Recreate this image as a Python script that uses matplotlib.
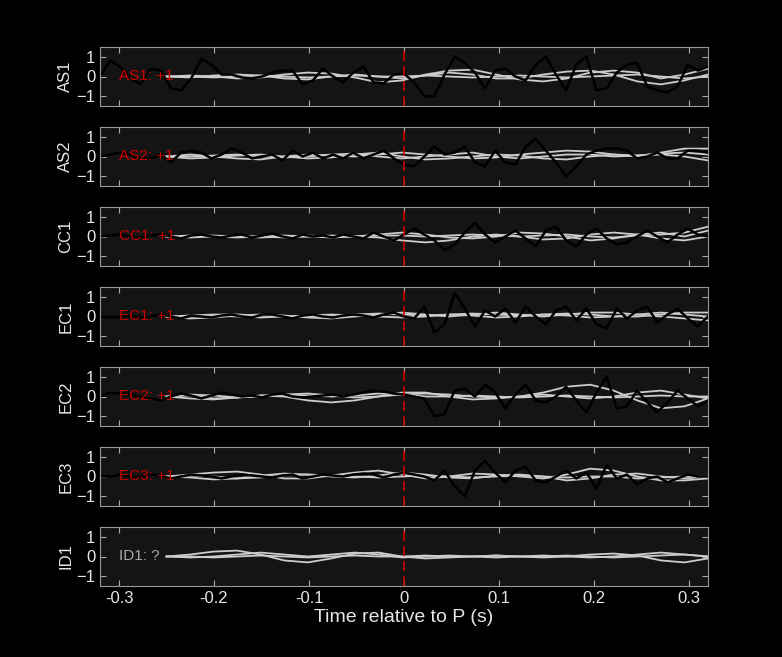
import numpy as np
import matplotlib.pyplot as plt

plt.rcParams['font.family'] = ['Liberation Sans', 'DejaVu Sans']

stations = ['AS1', 'AS2', 'CC1', 'EC1', 'EC2', 'EC3', 'ID1']
polarity = ['+1', '+1', '+1', '+1', '+1', '+1', '?']

# black (observed) traces, evenly spaced over -0.32..0.32 s
black = {
    'AS1': [0, 0.8, 0.5, -0.1, -0.4, 0.4, 0.3, -0.6, -0.7, -0.1, 0.9, 0.6, 0.1, 0.1, -0.05, -0.1, 0.0,
            0.2, 0.3, 0.3, -0.4, -0.2, 0.4, 0.0, -0.3, 0.2, 0.5, -0.3, -0.35, 0.1, 0.15, -0.3, -1.0,
            -1.0, 0.1, 1.0, 0.7, 0.2, -0.6, 0.3, 0.4, 0.0, -0.2, 0.6, 1.0, 0.1, -0.7, 0.6, 1.0, -0.7,
            -0.6, 0.2, 0.6, 0.7, -0.5, -0.7, -0.8, -0.5, 0.6, 0.3, 0.5],
    'AS2': [0, 0.1, 0.2, 0.1, -0.1, -0.1, 0.1, -0.3, 0.2, 0.3, 0.2, -0.1, 0.1, 0.4, 0.2, -0.1, 0.0,
            0.1, -0.2, 0.3, 0.0, 0.2, -0.1, 0.1, -0.1, 0.2, -0.1, 0.1, 0.3, -0.1, -0.4, -0.5, 0.0,
            0.5, 0.1, 0.2, 0.5, -0.3, -0.5, 0.3, -0.3, -0.4, 0.5, 0.9, 0.3, -0.3, -1.0, -0.5, 0.1,
            0.3, 0.4, 0.4, 0.3, -0.1, 0.0, 0.2, -0.1, -0.1, 0.3, 0.3, 0.2],
    'CC1': [0, 0.05, 0.1, 0.0, -0.05, 0.05, 0.1, 0.0, -0.1, 0.05, 0.1, 0.0, -0.05, 0.05, 0.1, -0.05,
            0.05, 0.15, 0.0, -0.1, 0.1, 0.0, 0.05, -0.05, 0.1, 0.0, -0.1, 0.2, 0.0, -0.2, 0.1, 0.4,
            0.1, -0.2, -0.7, -0.4, 0.2, 0.7, 0.1, -0.3, 0.0, 0.3, -0.1, -0.5, 0.3, 0.5, -0.2, -0.5,
            0.1, 0.4, -0.1, -0.4, -0.3, 0.0, 0.3, 0.0, -0.3, 0.1, 0.4, 0.1, 0.0],
    'EC1': [0, -0.05, 0.0, 0.05, -0.05, 0.0, 0.1, 0.0, -0.1, 0.05, 0.0, -0.05, 0.05, 0.1, 0.0, -0.05,
            0.1, 0.1, 0.0, -0.1, 0.05, 0.1, 0.0, -0.05, 0.05, 0.1, 0.05, -0.05, 0.1, 0.2, 0.0, -0.1,
            0.5, -0.8, -0.4, 1.2, 0.4, -0.5, 0.3, 0.0, 0.4, -0.3, 0.5, 0.0, -0.4, 0.3, 0.5, -0.2,
            0.4, -0.4, -0.6, 0.4, -0.1, 0.3, 0.5, -0.3, 0.1, 0.4, -0.1, -0.5, 0.0],
    'EC2': [0, 0.2, 0.15, 0.1, 0.0, -0.1, -0.2, 0.0, 0.15, 0.05, -0.1, 0.05, 0.2, 0.1, 0.0, 0.05,
            -0.05, 0.1, 0.15, 0.0, -0.05, 0.0, 0.05, 0.1, 0.0, 0.1, 0.2, 0.3, 0.25, 0.15, 0.1, 0.0,
            -0.1, -1.0, -0.9, 0.3, 0.4, 0.0, 0.6, 0.2, -0.6, 0.1, 0.6, -0.2, -0.3, 0.0, 0.5, -0.2,
            -0.8, 0.2, 1.0, -0.6, -0.5, 0.3, -0.3, -0.8, -0.3, 0.3, -0.1, -0.5, -0.2],
    'EC3': [0, 0.0, 0.1, 0.0, -0.05, 0.1, 0.05, -0.1, 0.0, 0.1, 0.05, 0.0, -0.1, 0.0, 0.1, 0.05,
            0.0, -0.05, 0.05, 0.1, -0.1, 0.0, 0.1, 0.05, 0.0, 0.1, 0.15, 0.1, -0.05, 0.1, 0.2, 0.1,
            0.0, -0.2, 0.3, -0.5, -1.0, 0.3, 0.8, 0.2, -0.3, 0.3, 0.5, -0.2, -0.3, 0.0, 0.3, -0.1,
            0.2, -0.6, 0.6, -0.1, 0.1, -0.4, -0.1, 0.0, -0.3, -0.1, 0.1, 0.0, 0.0],
}

# grey (synthetic) traces, evenly spaced over -0.25..0.32 s
grey = {
    'AS1': [[0, 0.05, 0.0, -0.1, -0.05, 0.1, 0.2, 0.15, -0.05, -0.3, -0.2, 0.1, 0.3, 0.35, 0.1, -0.15,
             -0.25, -0.1, 0.2, 0.3, 0.2, -0.1, 0.1, 0.4],
            [0, -0.05, 0.05, 0.1, 0.05, -0.1, -0.15, 0.0, 0.1, 0.0, -0.1, 0.05, 0.2, 0.1, -0.1, -0.1,
             0.1, 0.25, 0.3, 0.1, -0.25, -0.4, -0.2, 0.1],
            [0, 0.0, -0.05, 0.0, 0.05, 0.0, -0.05, 0.0, 0.05, 0.0, 0.0, 0.05, 0.0, -0.05, 0.0, 0.05,
             0.0, -0.05, 0.0, 0.05, 0.1, 0.0, -0.1, 0.0]],
    'AS2': [[0, 0.1, 0.0, -0.1, -0.15, 0.0, 0.1, 0.05, 0.0, 0.1, 0.2, 0.1, 0.0, -0.1, -0.05, 0.1,
             0.2, 0.3, 0.25, 0.1, 0.0, 0.2, 0.4, 0.4],
            [0, -0.1, -0.05, 0.05, 0.1, 0.0, -0.1, -0.05, 0.1, 0.2, 0.0, -0.15, -0.1, 0.0, 0.1, 0.05,
             -0.1, -0.15, 0.0, 0.1, 0.05, 0.1, 0.0, -0.2],
            [0, 0.0, 0.05, 0.1, 0.0, -0.05, 0.0, 0.1, 0.15, 0.0, -0.1, 0.0, 0.1, 0.2, 0.0, -0.1,
             0.0, 0.1, 0.1, 0.0, 0.05, 0.15, 0.2, 0.1]],
    'CC1': [[0, 0.05, 0.0, -0.05, 0.0, 0.05, 0.0, -0.05, 0.0, 0.1, 0.2, 0.1, -0.05, -0.1, 0.0, 0.2,
             0.15, 0.0, -0.2, -0.1, 0.1, 0.2, 0.0, 0.3],
            [0, -0.05, 0.0, 0.05, 0.0, -0.05, 0.0, 0.05, 0.0, -0.05, -0.2, -0.3, -0.2, 0.0, 0.1, 0.0,
             -0.15, -0.1, 0.1, 0.2, 0.1, -0.1, -0.2, 0.0],
            [0, 0.0, 0.05, 0.0, -0.05, 0.0, 0.05, 0.0, 0.0, 0.05, 0.05, 0.0, 0.05, 0.1, 0.05, 0.0,
             0.05, 0.1, 0.0, -0.05, 0.05, 0.1, 0.2, 0.5]],
    'EC1': [[0, -0.1, -0.05, 0.05, 0.1, 0.05, -0.05, -0.1, 0.0, 0.1, 0.2, 0.1, 0.0, 0.1, 0.2, 0.1,
             0.0, 0.1, 0.2, 0.2, 0.1, 0.0, -0.1, -0.2],
            [0, 0.0, 0.05, 0.0, -0.05, 0.0, 0.05, 0.1, 0.05, 0.0, -0.05, 0.0, 0.1, 0.05, -0.05, 0.0,
             0.1, 0.05, -0.05, 0.0, 0.1, 0.2, 0.1, 0.0],
            [0, 0.05, 0.1, 0.1, 0.05, 0.0, 0.0, 0.05, 0.1, 0.15, 0.1, 0.05, 0.1, 0.15, 0.1, 0.05,
             0.1, 0.15, 0.1, 0.0, 0.0, 0.1, 0.2, 0.2]],
    'EC2': [[0, 0.05, -0.1, -0.05, 0.05, 0.0, -0.2, -0.3, -0.2, 0.0, 0.2, 0.2, 0.0, -0.15, -0.1, 0.0,
             0.2, 0.5, 0.6, 0.3, -0.2, -0.6, -0.5, -0.1],
            [0, 0.1, 0.05, -0.05, 0.0, 0.1, 0.15, 0.05, -0.05, 0.0, 0.1, 0.15, 0.1, 0.0, -0.05, 0.0,
             0.1, 0.0, -0.1, 0.0, 0.2, 0.3, 0.1, -0.1],
            [0, -0.1, -0.15, -0.05, 0.05, 0.1, 0.05, 0.0, 0.05, 0.15, 0.1, 0.0, 0.0, 0.05, 0.0, -0.05,
             0.0, 0.05, 0.0, -0.05, 0.0, 0.05, 0.0, 0.0]],
    'EC3': [[0, 0.1, 0.2, 0.25, 0.1, -0.1, -0.1, 0.05, 0.2, 0.3, 0.1, -0.1, 0.0, 0.15, 0.1, 0.0,
             -0.1, 0.1, 0.4, 0.3, 0.0, -0.2, -0.2, -0.1],
            [0, -0.05, -0.15, -0.1, 0.05, 0.15, 0.1, 0.0, -0.05, 0.05, 0.2, 0.1, -0.05, -0.1, 0.05, 0.1,
             0.0, -0.2, -0.1, 0.1, 0.15, 0.0, -0.1, 0.0],
            [0, 0.05, 0.0, -0.1, -0.05, 0.05, 0.1, 0.05, 0.0, -0.05, 0.0, 0.05, 0.0, -0.05, 0.0, 0.05,
             0.0, -0.05, 0.0, 0.0, -0.1, -0.05, 0.0, 0.0]],
    'ID1': [[0, 0.1, 0.25, 0.3, 0.1, -0.2, -0.3, -0.1, 0.15, 0.2, 0.0, -0.1, -0.05, 0.0, 0.05, 0.0,
             -0.05, 0.0, 0.1, 0.15, 0.05, -0.2, -0.3, -0.1],
            [0, -0.05, 0.0, 0.1, 0.2, 0.1, 0.0, 0.1, 0.2, 0.1, -0.05, 0.0, 0.05, 0.0, -0.05, 0.0,
             0.05, 0.0, -0.05, 0.0, 0.1, 0.2, 0.1, 0.0],
            [0, 0.0, -0.05, 0.0, 0.05, 0.0, -0.05, 0.0, 0.05, 0.0, 0.0, 0.05, 0.0, 0.0, 0.05, 0.0,
             0.0, 0.05, 0.0, -0.05, 0.0, 0.05, 0.1, 0.0]],
}

fg = '#e6e6e6'
fig = plt.figure(figsize=(7.82, 6.57), dpi=100, facecolor='black')
n = len(stations)
left, width = 100 / 782, 608 / 782
for i, st in enumerate(stations):
    top = 47 + 80 * i
    ax = fig.add_axes([left, 1 - (top + 59) / 657, width, 59 / 657])
    ax.set_facecolor('#141414')
    for g in grey[st]:
        tg = np.linspace(-0.25, 0.32, len(g))
        ax.plot(tg, g, color='#cccccc', lw=1.3)
    if st in black:
        tb = np.linspace(-0.32, 0.32, len(black[st]))
        ax.plot(tb, black[st], color='black', lw=1.8)
    ax.axvline(0, color='#cc0000', lw=1.2, ls=(0, (6, 3)))
    col = '#aaaaaa' if polarity[i] == '?' else '#cc0000'
    ax.text(-0.3, 0, f'{st}: {polarity[i]}', color=col, fontsize=11, va='center', ha='left')
    ax.set_xlim(-0.32, 0.32)
    ax.set_ylim(-1.5, 1.5)
    ax.set_yticks([-1, 0, 1])
    ax.set_xticks(np.arange(-0.3, 0.31, 0.1))
    ax.tick_params(direction='in', top=True, right=True, colors='#aaaaaa',
                   labelcolor=fg, labelsize=12, length=4)
    for s in ax.spines.values():
        s.set_color('#999999')
    ax.set_ylabel(st, color=fg, fontsize=12, labelpad=2)
    if i < n - 1:
        ax.set_xticklabels([])
    else:
        ax.set_xticklabels(['-0.3', '-0.2', '-0.1', '0', '0.1', '0.2', '0.3'])
        ax.set_xlabel('Time relative to P (s)', color=fg, fontsize=14, labelpad=2)

fig.savefig('out.png', dpi=100, facecolor='black')
